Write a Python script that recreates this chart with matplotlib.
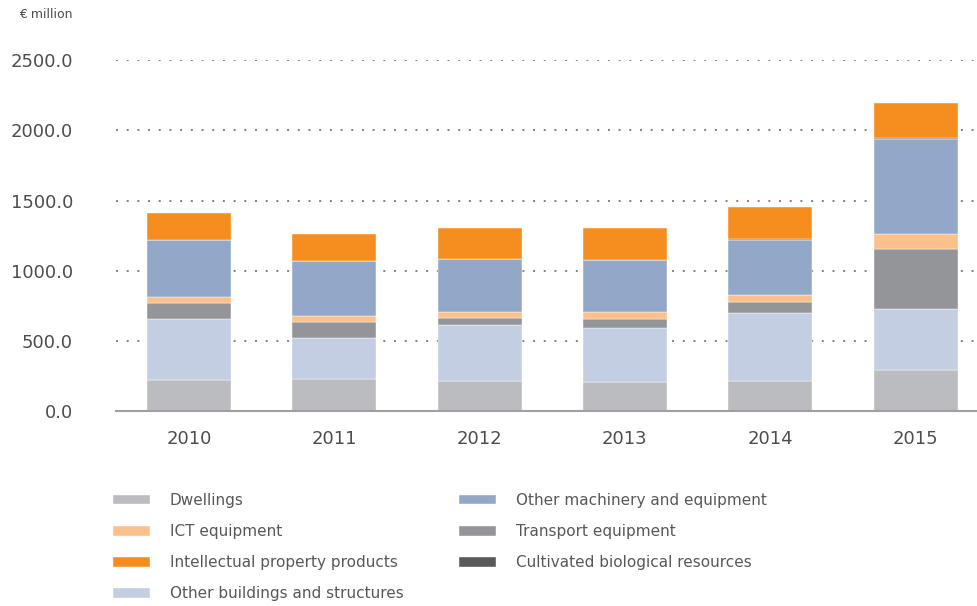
import matplotlib.pyplot as plt
import numpy as np

years = ['2010', '2011', '2012', '2013', '2014', '2015']

# € million, stacked bottom to top
dwellings = [219, 226, 212, 205, 212, 291]
other_buildings = [434, 295, 398, 388, 488, 433]
transport = [118, 113, 54, 60, 76, 431]
ict = [43, 42, 39, 50, 48, 105]
machinery = [401, 391, 379, 369, 396, 682]
cultivated = [4, 4, 4, 4, 4, 4]
ip_products = [191, 193, 221, 231, 229, 247]

series = [
    ('Dwellings', dwellings, '#bbbcc0'),
    ('Other buildings and structures', other_buildings, '#c3cee2'),
    ('Transport equipment', transport, '#939598'),
    ('ICT equipment', ict, '#fcc18a'),
    ('Other machinery and equipment', machinery, '#93a8c8'),
    ('Cultivated biological resources', cultivated, '#58595b'),
    ('Intellectual property products', ip_products, '#f58e1f'),
]

text_col = '#4d4d4f'

fig = plt.figure(figsize=(9.78, 6.06), dpi=100)
ax = fig.add_axes([116 / 978, 195.3 / 606, 862 / 978, 350.3 / 606])

x = np.arange(len(years))
bottom = np.zeros(len(years))
handles = {}
for name, vals, col in series:
    b = ax.bar(x, vals, width=0.578, bottom=bottom, color=col,
               edgecolor='white', linewidth=0.3, zorder=3)
    handles[name] = b
    bottom += np.array(vals)

ax.set_xlim(-0.502, 5.43)
ax.set_ylim(0, 2500)
ax.set_yticks([0, 500, 1000, 1500, 2000, 2500])
ax.set_yticklabels(['0.0', '500.0', '1000.0', '1500.0', '2000.0', '2500.0'])
ax.set_xticks(x)
ax.set_xticklabels(years)
ax.tick_params(axis='y', length=0, pad=31, labelsize=13, labelcolor=text_col)
ax.tick_params(axis='x', length=0, pad=14, labelsize=13, labelcolor=text_col)

ax.yaxis.grid(True, linestyle=(0, (1, 4.5)), linewidth=1.4, color='#808082', zorder=0)
for s in ['top', 'right', 'left']:
    ax.spines[s].set_visible(False)
ax.spines['bottom'].set_color('#a0a0a2')
ax.spines['bottom'].set_linewidth(1.5)
ax.spines['bottom'].set_zorder(4)

fig.text(73 / 978, 1 - 15 / 606, '€ million', ha='right', va='center',
         fontsize=9, color=text_col)

col1 = ['Dwellings', 'ICT equipment', 'Intellectual property products',
        'Other buildings and structures']
col2 = ['Other machinery and equipment', 'Transport equipment',
        'Cultivated biological resources']

common = dict(frameon=False, fontsize=11, handlelength=2.4, handleheight=0.6,
              handletextpad=1.3, labelspacing=1.05, labelcolor='#58585a',
              loc='upper left', borderaxespad=0, borderpad=0)
leg1 = fig.legend([handles[n] for n in col1], col1,
                  bbox_to_anchor=(113 / 978, 1 - 493 / 606), **common)
leg2 = fig.legend([handles[n] for n in col2], col2,
                  bbox_to_anchor=(459 / 978, 1 - 493 / 606), **common)

fig.savefig('out.png', dpi=100)
